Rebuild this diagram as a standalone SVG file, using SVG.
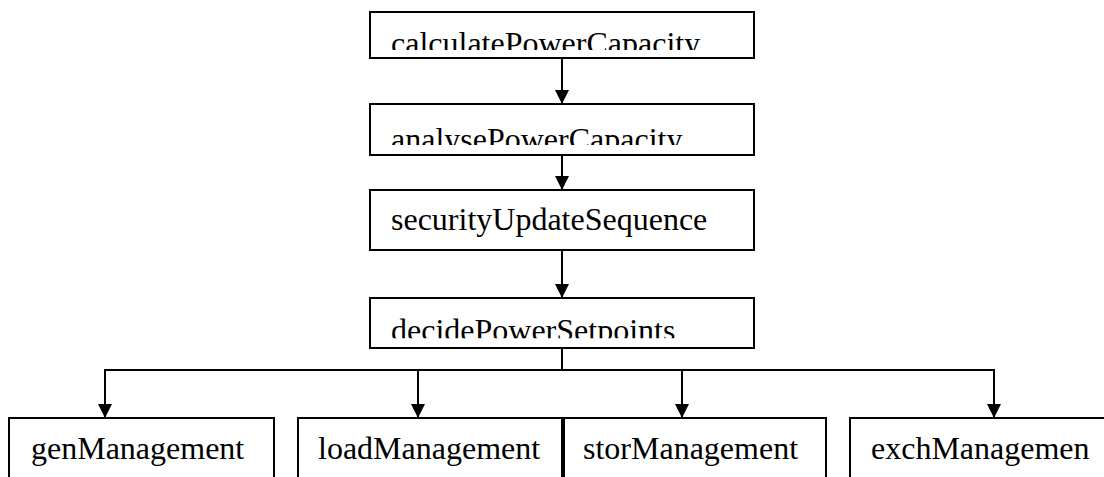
<svg xmlns="http://www.w3.org/2000/svg" width="1104" height="477" viewBox="0 0 1104 477">
  <style>
    .box { fill: #ffffff; stroke: #000000; stroke-width: 2; }
    .label { font-family: "Liberation Serif", "Times New Roman", serif; font-size: 32px; fill: #000000; }
    .wire { fill: none; stroke: #000000; stroke-width: 2; }
  </style>
  <defs>
    <marker id="head" viewBox="0 0 14 14" refX="14" refY="7" markerWidth="14" markerHeight="14" markerUnits="userSpaceOnUse" orient="auto">
      <path d="M0,0 L14,7 L0,14 Z" fill="#000000"/>
    </marker>
    <!-- label areas that cut off descenders in the shorter boxes -->
    <clipPath id="clipCalc"><rect x="370" y="12" width="384" height="38"/></clipPath>
    <clipPath id="clipAnalyse"><rect x="370" y="104" width="384" height="41"/></clipPath>
    <clipPath id="clipDecide"><rect x="370" y="298" width="384" height="40.3"/></clipPath>
  </defs>

  <rect width="1104" height="477" fill="#ffffff"/>

  <g id="connectors">
    <line class="wire" x1="562" y1="58" x2="562" y2="104" marker-end="url(#head)"/>
    <line class="wire" x1="562" y1="155" x2="562" y2="190" marker-end="url(#head)"/>
    <line class="wire" x1="562" y1="250" x2="562" y2="298" marker-end="url(#head)"/>
    <line class="wire" x1="562" y1="348" x2="562" y2="370"/>
    <line class="wire" x1="104" y1="370" x2="995" y2="370"/>
    <line class="wire" x1="105" y1="370" x2="105" y2="418" marker-end="url(#head)"/>
    <line class="wire" x1="418" y1="370" x2="418" y2="418" marker-end="url(#head)"/>
    <line class="wire" x1="682" y1="370" x2="682" y2="418" marker-end="url(#head)"/>
    <line class="wire" x1="994" y1="370" x2="994" y2="418" marker-end="url(#head)"/>
  </g>

  <g id="calculatePowerCapacity">
    <rect class="box" x="370" y="12" width="384" height="46"/>
    <text class="label" x="391" y="53.5" clip-path="url(#clipCalc)">calculatePowerCapacity</text>
  </g>

  <g id="analysePowerCapacity">
    <rect class="box" x="370" y="104" width="384" height="51"/>
    <text class="label" x="391" y="149.5" clip-path="url(#clipAnalyse)">analysePowerCapacity</text>
  </g>

  <g id="securityUpdateSequence">
    <rect class="box" x="370" y="190" width="384" height="60"/>
    <text class="label" x="391" y="230">securityUpdateSequence</text>
  </g>

  <g id="decidePowerSetpoints">
    <rect class="box" x="370" y="298" width="384" height="50"/>
    <text class="label" x="391" y="340.5" clip-path="url(#clipDecide)">decidePowerSetpoints</text>
  </g>

  <g id="genManagement">
    <rect class="box" x="9" y="418" width="265" height="80"/>
    <text class="label" x="31" y="459">genManagement</text>
  </g>

  <g id="loadManagement">
    <rect class="box" x="298" y="418" width="264" height="80"/>
    <text class="label" x="318" y="459">loadManagement</text>
  </g>

  <g id="storManagement">
    <rect class="box" x="564" y="418" width="262" height="80"/>
    <text class="label" x="583" y="459">storManagement</text>
  </g>

  <g id="exchManagement">
    <rect class="box" x="850" y="418" width="265" height="80"/>
    <text class="label" x="871" y="459">exchManagemen</text>
  </g>
</svg>
